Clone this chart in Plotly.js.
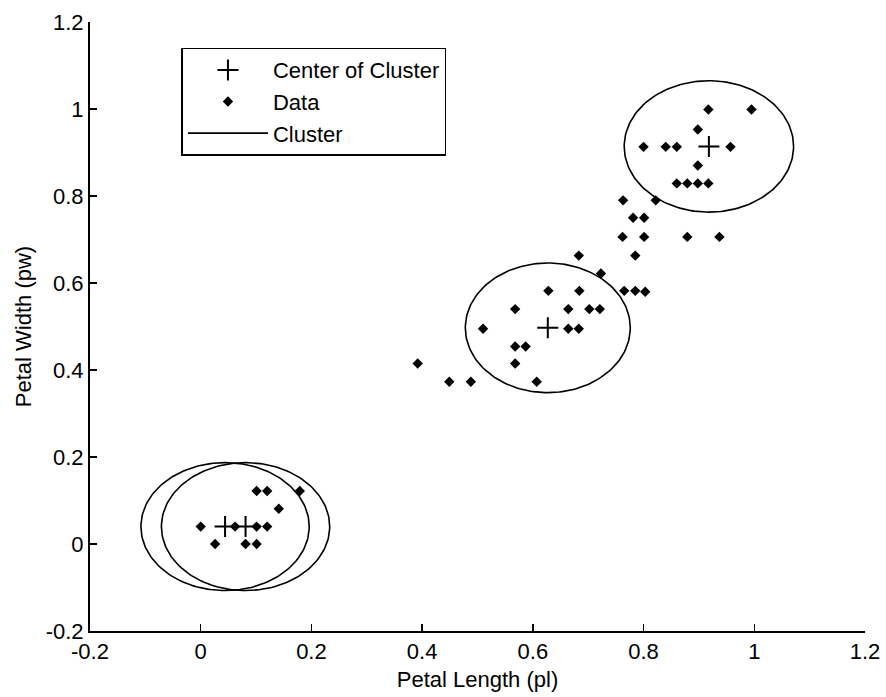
<!DOCTYPE html>
<html>
<head>
<meta charset="utf-8">
<script src="https://cdn.plot.ly/plotly-3.0.1.min.js"></script>
<style>
  html, body { margin: 0; padding: 0; background: #fff; }
  #chart { width: 886px; height: 697px; }
</style>
</head>
<body>
<div id="chart"></div>
<script>
// Normalised petal measurements (length, width)
const dataX = [
  0.000, 0.062, 0.101, 0.120, 0.101, 0.120, 0.179, 0.141, 0.026, 0.081, 0.101,
  0.683, 0.785, 0.723, 0.628, 0.684, 0.765, 0.785, 0.803, 0.568, 0.664, 0.702,
  0.721, 0.510, 0.664, 0.683, 0.568, 0.587, 0.392, 0.568, 0.449, 0.488, 0.607,
  0.917, 0.995, 0.898, 0.800, 0.840, 0.860, 0.957, 0.898, 0.860, 0.879, 0.898,
  0.917, 0.763, 0.822, 0.781, 0.801, 0.762, 0.801, 0.879, 0.937
];
const dataY = [
  0.040, 0.040, 0.040, 0.040, 0.122, 0.122, 0.122, 0.081, 0.000, 0.000, 0.000,
  0.663, 0.663, 0.622, 0.582, 0.582, 0.582, 0.582, 0.580, 0.540, 0.540, 0.540,
  0.540, 0.495, 0.495, 0.495, 0.454, 0.454, 0.415, 0.415, 0.373, 0.373, 0.373,
  0.999, 0.999, 0.953, 0.913, 0.913, 0.913, 0.913, 0.870, 0.829, 0.829, 0.829,
  0.829, 0.790, 0.790, 0.750, 0.750, 0.706, 0.706, 0.706, 0.706
];

// Cluster centres and cluster radii (along length and width)
const centerX = [0.044, 0.081, 0.627, 0.918];
const centerY = [0.040, 0.040, 0.497, 0.914];
const clusterRx = [0.152, 0.152, 0.149, 0.153];
const clusterRy = [0.147, 0.147, 0.149, 0.151];

// Axis ticks
const tickVals = [-0.2, 0, 0.2, 0.4, 0.6, 0.8, 1, 1.2];
const tickLabels = ['-0.2', '0', '0.2', '0.4', '0.6', '0.8', '1', '1.2'];

const FONT = '"Liberation Sans", Arial, Helvetica, sans-serif';
const FS = 22;

// Outline of each cluster as a closed curve around its centre
function clusterOutline(cx, cy, rx, ry) {
  const xs = [], ys = [];
  const n = 180;
  for (let i = 0; i <= n; i++) {
    const t = 2 * Math.PI * i / n;
    xs.push(cx + rx * Math.cos(t));
    ys.push(cy + ry * Math.sin(t));
  }
  return { xs, ys };
}

const traces = [];

centerX.forEach((cx, i) => {
  const c = clusterOutline(cx, centerY[i], clusterRx[i], clusterRy[i]);
  traces.push({
    type: 'scatter', mode: 'lines',
    x: c.xs, y: c.ys,
    name: 'Cluster', legendgroup: 'cluster', legendrank: 3,
    showlegend: i === 0,
    line: { color: '#000', width: 1.6 },
    hoverinfo: 'skip'
  });
});

traces.push({
  type: 'scatter', mode: 'markers',
  x: dataX, y: dataY,
  name: 'Data', legendrank: 2,
  marker: { symbol: 'diamond', size: 8, color: '#000' }
});

traces.push({
  type: 'scatter', mode: 'markers',
  x: centerX, y: centerY,
  name: 'Center of Cluster', legendrank: 1,
  marker: { symbol: 'cross-thin', size: 15, color: '#000',
            line: { color: '#000', width: 2 } }
});

const axisCommon = {
  range: [-0.2, 1.2],
  tickmode: 'array',
  tickvals: tickVals,
  ticktext: tickLabels,
  ticks: 'inside',
  ticklen: 7,
  tickwidth: 1.5,
  tickcolor: '#000',
  showline: true,
  linecolor: '#000',
  linewidth: 2,
  mirror: false,
  showgrid: false,
  zeroline: false,
  tickfont: { family: FONT, size: FS, color: '#000' }
};

const layout = {
  width: 886,
  height: 697,
  margin: { l: 90, r: 21, t: 22, b: 66 },
  paper_bgcolor: '#fff',
  plot_bgcolor: '#fff',
  font: { family: FONT, color: '#000' },
  xaxis: Object.assign({}, axisCommon, {
    title: { text: 'Petal Length (pl)', font: { family: FONT, size: FS }, standoff: 8 }
  }),
  yaxis: Object.assign({}, axisCommon, {
    title: { text: 'Petal Width (pw)', font: { family: FONT, size: FS }, standoff: 8 }
  }),
  legend: {
    x: 0.118, y: 0.958, xanchor: 'left', yanchor: 'top',
    bgcolor: '#fff',
    bordercolor: '#000',
    borderwidth: 1.5,
    font: { family: FONT, size: FS, color: '#000' },
    itemwidth: 80,
    tracegroupgap: 0
  },
  showlegend: true
};

Plotly.newPlot('chart', traces, layout, { staticPlot: true, displayModeBar: false });
</script>
</body>
</html>
